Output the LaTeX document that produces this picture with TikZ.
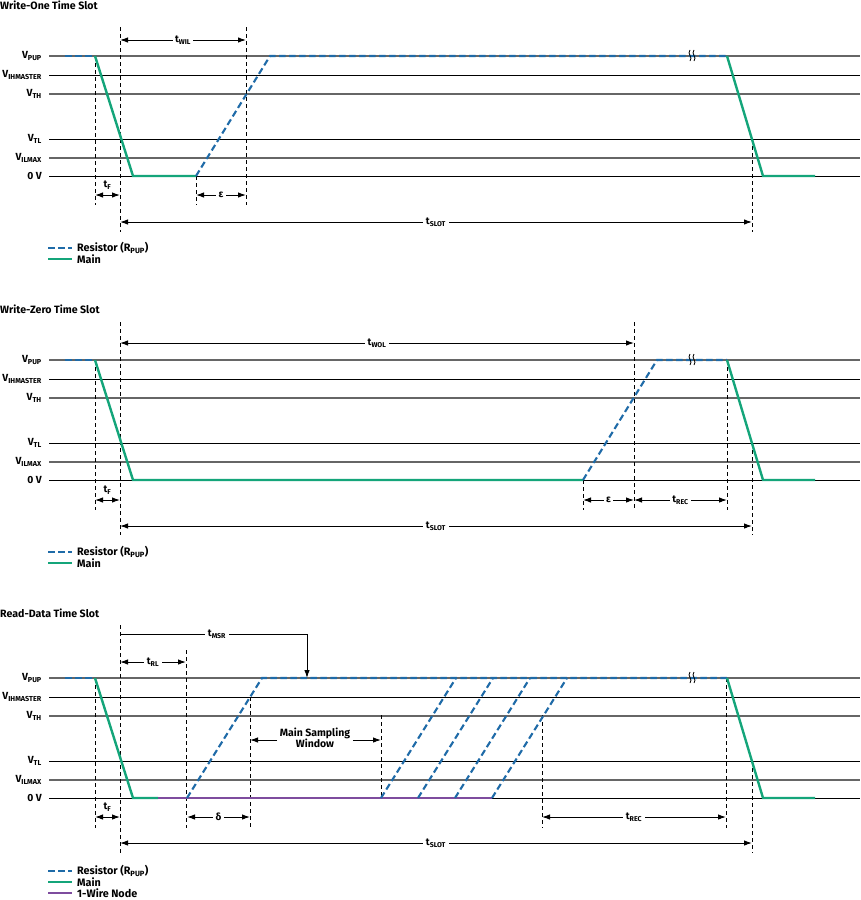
\documentclass[tikz,border=0pt]{standalone}
\usepackage{fontspec}
\setmainfont{Fira Sans}
\usetikzlibrary{arrows.meta}
\definecolor{rblue}{HTML}{1F6BA8}
\definecolor{mgreen}{HTML}{14A57A}
\definecolor{wpurple}{HTML}{7E4C9E}
\newcommand{\mysub}[1]{\textsubscript{#1}}
\tikzset{
 gridk/.style={line width=1pt, black},
 gridg/.style={line width=1.2pt, black!60},
 res/.style={draw=rblue, line width=2.1pt, dash pattern=on 6.5pt off 3.5pt},
 mainln/.style={draw=mgreen, line width=2.4pt},
 wire/.style={draw=wpurple, line width=2.4pt},
 vdash/.style={draw=black, line width=0.8pt, dash pattern=on 4pt off 3pt},
 dimarr/.style={line width=1pt, {Latex[length=8pt,width=5.5pt]}-{Latex[length=8pt,width=5.5pt]}},
 onearr/.style={line width=1pt, -{Latex[length=8pt,width=5.5pt]}},
 dlabel/.style={fill=white, inner sep=2.5pt, font=\bfseries\fontsize{10}{11}\selectfont},
 vlabel/.style={anchor=east, font=\bfseries\fontsize{10.3}{11}\selectfont, inner sep=0pt},
 ttl/.style={anchor=west, font=\bfseries\fontsize{10.6}{12}\selectfont, inner sep=0pt},
 legtext/.style={anchor=west, font=\bfseries\fontsize{10.8}{11}\selectfont, inner sep=0pt},
}
\newcommand{\levelgrid}[1]{%
 \draw[gridg] (49,56) -- (860,56);
 \draw[gridk] (49,75) -- (860,75);
 \draw[gridg] (49,94) -- (860,94);
 \draw[gridk] (49,139) -- (860,139);
 \draw[gridg] (49,158) -- (860,158);
 \draw[gridk] (49,176) -- (860,176);
 \node[vlabel] (#1vpup) at (42,56) {V\mysub{PUP}};
 \node[vlabel] (#1vih) at (42,75) {V\mysub{IHMASTER}};
 \node[vlabel] (#1vth) at (42,94) {V\mysub{TH}};
 \node[vlabel] (#1vtl) at (42,139) {V\mysub{TL}};
 \node[vlabel] (#1vil) at (42,158) {V\mysub{ILMAX}};
 \node[vlabel] (#1zero) at (42,176) {0 V};
}
\newcommand{\brk}[1]{%
 \draw[line width=0.8pt] (#1,50) .. controls (#1-3.5,53.5) and (#1+3.5,57.5) .. (#1,61);
 \draw[line width=0.8pt] (#1+4,50) .. controls (#1+0.5,53.5) and (#1+7.5,57.5) .. (#1+4,61);
}
\newcommand{\legendtwo}[1]{%
 \draw[res] (48,#1) -- (72,#1);
 \node[legtext] at (77,#1) {Resistor (R\mysub{PUP})};
 \draw[mainln] (48,#1+11) -- (72,#1+11);
 \node[legtext] at (77,#1+11) {Main};
}
\begin{document}
\begin{tikzpicture}[x=1pt,y=-1pt]
\useasboundingbox[fill=white] (0,0) rectangle (860,900);

% ================= Panel 1 =================
\begin{scope}
\node[ttl] (t1) at (0,5) {Write-One Time Slot};
\levelgrid{a}
\draw[vdash] (95,56) -- (95,205);
\draw[vdash] (120,27) -- (120,232);
\draw[vdash] (246,27) -- (246,205);
\draw[vdash] (196,176) -- (196,205);
\draw[vdash] (752,139) -- (752,232);
\draw[res] (65,56) -- (95,56);
\draw[mainln] (95,56) -- (133,176) -- (196,176);
\draw[res] (196,176) -- (270,56) -- (727,56);
\draw[mainln] (727,56) -- (763,176) -- (815,176);
\brk{690}
\draw[dimarr] (120,40) -- node[dlabel] (atwil) {t\mysub{WIL}} (246,40);
\draw[dimarr] (95,195) -- (120,195);
\node[dlabel,fill=none] (atf) at (107.5,185) {t\mysub{F}};
\draw[dimarr] (196,195) -- node[dlabel] (aeps) {ε} (246,195);
\draw[dimarr] (120,222) -- node[dlabel] (atslot) {t\mysub{SLOT}} (752,222);
\legendtwo{248}
\end{scope}

% ================= Panel 2 =================
\begin{scope}[yshift=-304pt]
\node[ttl] (t2) at (0,5) {Write-Zero Time Slot};
\levelgrid{b}
\draw[vdash] (95,56) -- (95,206);
\draw[vdash] (120,18) -- (120,231);
\draw[vdash] (634,18) -- (634,206);
\draw[vdash] (583,176) -- (583,206);
\draw[vdash] (727,56) -- (727,206);
\draw[vdash] (752,139) -- (752,231);
\draw[res] (65,56) -- (95,56);
\draw[mainln] (95,56) -- (133,176) -- (583,176);
\draw[res] (583,176) -- (657,56) -- (727,56);
\draw[mainln] (727,56) -- (763,176) -- (815,176);
\brk{690}
\draw[dimarr] (120,39) -- node[dlabel] (btwol) {t\mysub{WOL}} (634,39);
\draw[dimarr] (95,196) -- (120,196);
\node[dlabel,fill=none] (btf) at (107.5,186) {t\mysub{F}};
\draw[dimarr] (583,196) -- node[dlabel] (beps) {ε} (634,196);
\draw[dimarr] (634,196) -- node[dlabel] (btrec) {t\mysub{REC}} (727,196);
\draw[dimarr] (120,222) -- node[dlabel] (btslot) {t\mysub{SLOT}} (752,222);
\legendtwo{248}
\end{scope}

% ================= Panel 3 =================
\begin{scope}[yshift=-622pt]
\node[ttl] (t3) at (0,-9) {Read-Data Time Slot};
\levelgrid{c}
\draw[vdash] (95,56) -- (95,206);
\draw[vdash] (120,3) -- (120,231);
\draw[vdash] (186,28) -- (186,206);
\draw[vdash] (250,75) -- (250,206);
\draw[vdash] (381,93) -- (381,176);
\draw[vdash] (542,93) -- (542,206);
\draw[vdash] (726,56) -- (726,206);
\draw[vdash] (752,139) -- (752,231);
\draw[res] (65,56) -- (95,56);
\draw[mainln] (95,56) -- (133,176) -- (158,176);
\draw[wire] (158,176) -- (492,176);
\draw[res] (187,176) -- (262,56) -- (727,56);
\draw[res] (381,176) -- (456,56);
\draw[res] (418,176) -- (493,56);
\draw[res] (455,176) -- (530,56);
\draw[res] (492,176) -- (567,56);
\draw[mainln] (727,56) -- (763,176) -- (815,176);
\brk{690}
\draw[onearr] (120,12) -- (307,12) -- (307,56);
\node[dlabel] (ctmsr) at (217,12) {t\mysub{MSR}};
\draw[dimarr] (120,40) -- node[dlabel] (ctrl) {t\mysub{RL}} (186,40);
\node[dlabel, align=center, font=\bfseries\fontsize{10.5}{11.5}\selectfont] (cmsw) at (315,116) {Main Sampling\\Window};
\draw[onearr] (cmsw.west) ++(0,2) coordinate (msl) -- (250,118);
\draw[onearr] (cmsw.east) ++(0,2) coordinate (msr) -- (381,118);
\draw[dimarr] (95,195) -- (120,195);
\node[dlabel,fill=none] (ctf) at (107.5,185) {t\mysub{F}};
\draw[dimarr] (187,195) -- node[dlabel] (cdel) {δ} (250,195);
\draw[dimarr] (542,195) -- node[dlabel] (ctrec) {t\mysub{REC}} (726,195);
\draw[dimarr] (120,221) -- node[dlabel] (ctslot) {t\mysub{SLOT}} (752,221);
\legendtwo{249}
\draw[wire] (48,271) -- (72,271);
\node[legtext] at (77,271) {1-Wire Node};
\end{scope}
\end{tikzpicture}
\end{document}
